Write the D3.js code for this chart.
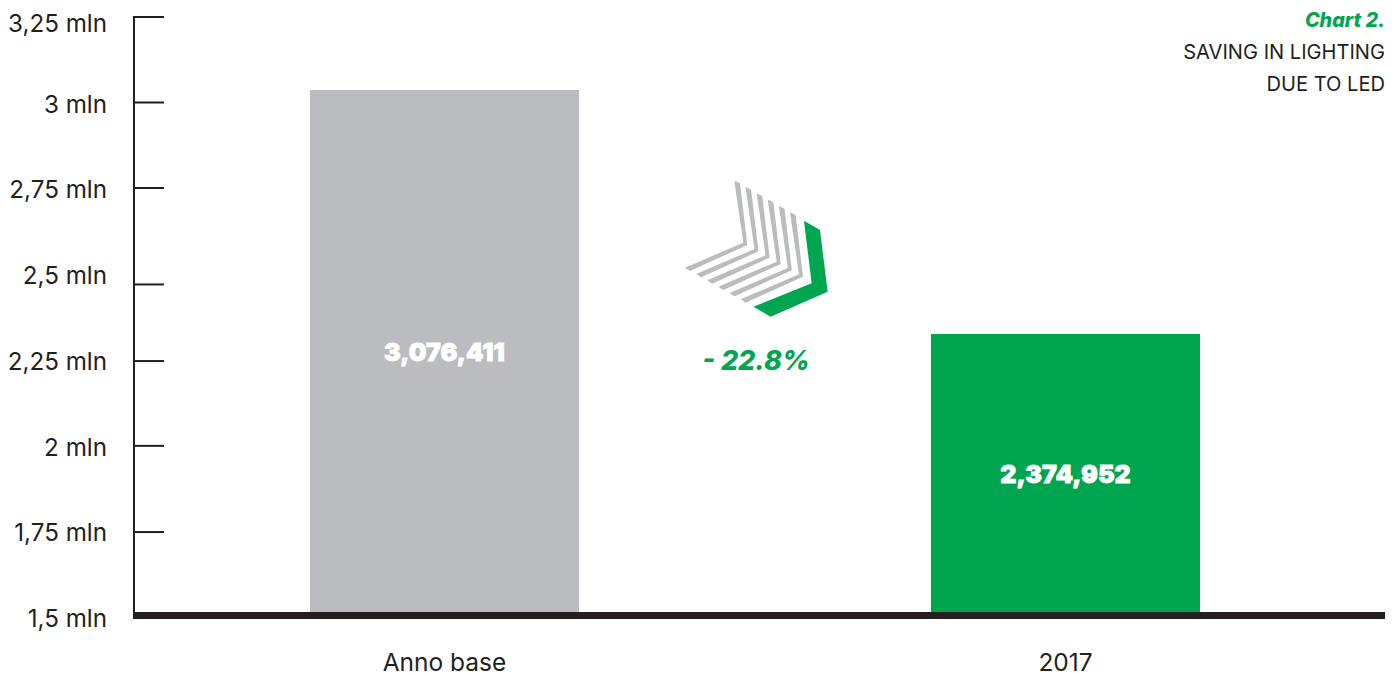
<!DOCTYPE html>
<html>
<head>
<meta charset="utf-8">
<script src="https://cdn.jsdelivr.net/npm/d3@7"></script>
<style>
  html, body { margin: 0; padding: 0; background: #fff; }
  svg { display: block; }
  text { font-family: Inter, "Noto Sans", sans-serif; }
</style>
</head>
<body>
<svg id="chart" width="1394" height="673"></svg>
<script>
// Lighting consumption, base year against 2017
const categories = ["Anno base", "2017"];
const consumption = [3076411, 2374952];
const valueLabels = ["3,076,411", "2,374,952"];
const barColors = ["#bbbcbf", "#00a64f"];

// Axis labels and the values at which the tick marks sit on the axis
const tickLabels = ["3,25 mln", "3 mln", "2,75 mln", "2,5 mln", "2,25 mln", "2 mln", "1,75 mln", "1,5 mln"];
const labelValues = [3.25, 3, 2.75, 2.5, 2.25, 2, 1.75, 1.5];
const tickMarkValues = [3.25, 3, 2.75, 2.468, 2.244, 1.996, 1.744];

const titleLines = ["SAVING IN LIGHTING", "DUE TO LED"];
const changeLabel = "- 22.8%";

// Arrow emblem, in its own 3x drawing units
const stripeShape = [[193, 32], [210, 40], [232, 225], [60, 303], [45, 293], [220, 218]];
const stripeCount = d3.range(6);
const emblemGreen = [[402, 152], [450, 180], [473, 365], [302, 440], [250, 410], [425, 340]];

const ink = "#231f20";
const green = "#00a64f";
const svg = d3.select("#chart");

const tickY = d3.scaleLinear().domain([1.5, 3.25]).range([615.5, 17]);
const labelY = d3.scaleLinear().domain([1.5, 2, 2.5, 3, 3.25]).range([618, 447.5, 275, 104, 23.5]);
const barY = d3.scaleLinear().domain([1575500, 3076411]).range([612, 90]);
const x = d3.scaleBand().domain(categories).range([310, 1200]).paddingInner(0.5668).paddingOuter(0);

// Bars
svg.selectAll("rect.bar").data(categories).join("rect")
  .attr("class", "bar")
  .attr("x", d => x(d))
  .attr("width", x.bandwidth())
  .attr("y", (d, i) => barY(consumption[i]))
  .attr("height", (d, i) => barY.range()[0] - barY(consumption[i]))
  .attr("fill", (d, i) => barColors[i]);

// Value labels inside the bars
const valueLabelY = [352, 474];
svg.selectAll("text.value").data(valueLabels).join("text")
  .attr("class", "value")
  .attr("x", (d, i) => x(categories[i]) + x.bandwidth() / 2)
  .attr("y", (d, i) => valueLabelY[i])
  .attr("dy", "0.36em")
  .attr("text-anchor", "middle")
  .attr("fill", "#fff")
  .attr("stroke", "#fff")
  .attr("stroke-width", 0.8)
  .attr("font-size", 25)
  .attr("font-weight", 900)
  .text(d => d);

// Vertical axis with its ticks
svg.append("line")
  .attr("x1", 134).attr("x2", 134)
  .attr("y1", tickY(3.25) - 1).attr("y2", 613)
  .attr("stroke", ink).attr("stroke-width", 2);
svg.selectAll("line.tick").data(tickMarkValues).join("line")
  .attr("class", "tick")
  .attr("x1", 133).attr("x2", 164)
  .attr("y1", d => tickY(d)).attr("y2", d => tickY(d))
  .attr("stroke", ink).attr("stroke-width", 2);
svg.selectAll("text.tick-label").data(tickLabels).join("text")
  .attr("class", "tick-label")
  .attr("x", 107)
  .attr("y", (d, i) => labelY(labelValues[i]))
  .attr("dy", "0.36em")
  .attr("text-anchor", "end")
  .attr("fill", ink)
  .attr("font-size", 24.2)
  .text(d => d);

// Heavy baseline
svg.append("rect")
  .attr("x", 133).attr("y", 612)
  .attr("width", 1252).attr("height", 7)
  .attr("fill", ink);

// Category labels
svg.selectAll("text.category").data(categories).join("text")
  .attr("class", "category")
  .attr("x", d => x(d) + x.bandwidth() / 2)
  .attr("y", 662)
  .attr("dy", "0.36em")
  .attr("text-anchor", "middle")
  .attr("fill", ink)
  .attr("font-size", 24.5)
  .text(d => d);

// Title block
svg.append("text")
  .attr("x", 1385).attr("y", 20).attr("dy", "0.36em")
  .attr("text-anchor", "end")
  .attr("fill", green)
  .attr("font-size", 19.8).attr("font-weight", 800).attr("font-style", "italic")
  .text("Chart 2.");
svg.selectAll("text.title").data(titleLines).join("text")
  .attr("class", "title")
  .attr("x", 1385)
  .attr("y", (d, i) => 52 + i * 32)
  .attr("dy", "0.36em")
  .attr("text-anchor", "end")
  .attr("fill", ink)
  .attr("font-size", 20.1)
  .text(d => d);

// Arrow emblem and the change between the two years
const emblem = svg.append("g").attr("transform", "translate(670,170) scale(0.3333)");
const outline = d3.line().curve(d3.curveLinearClosed);
emblem.selectAll("path.stripe").data(stripeCount).join("path")
  .attr("class", "stripe")
  .attr("transform", i => `translate(${i * 33.4},${i * 19})`)
  .attr("d", outline(stripeShape))
  .attr("fill", barColors[0]);
emblem.append("path").attr("d", outline(emblemGreen)).attr("fill", green);

svg.append("text")
  .attr("x", 756).attr("y", 360).attr("dy", "0.36em")
  .attr("text-anchor", "middle")
  .attr("fill", green)
  .attr("font-size", 27).attr("font-weight", 800).attr("font-style", "italic")
  .text(changeLabel);
</script>
</body>
</html>
